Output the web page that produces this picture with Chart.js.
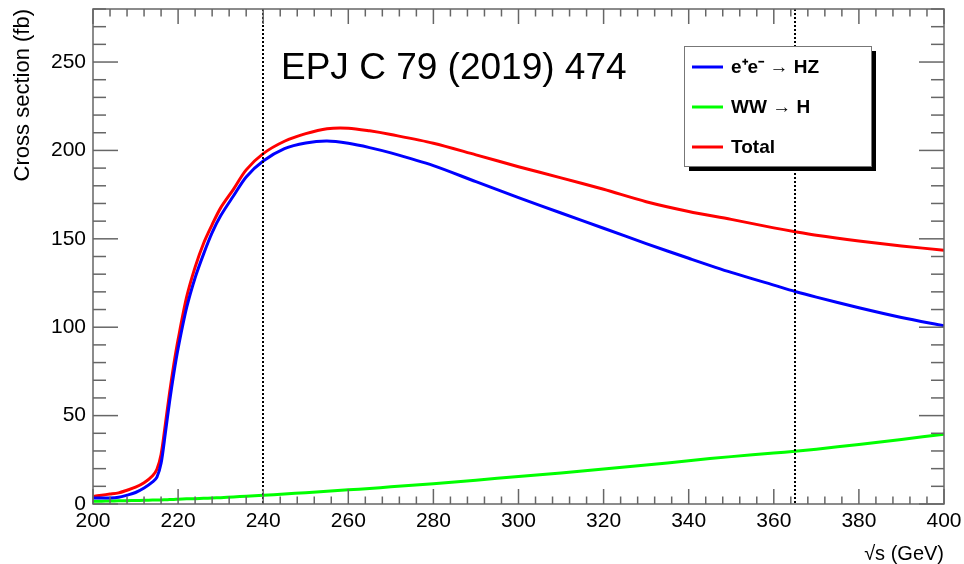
<!DOCTYPE html>
<html>
<head>
<meta charset="utf-8">
<script src="https://cdn.jsdelivr.net/npm/chart.js@4"></script>
<style>
  html, body { margin: 0; padding: 0; background: #fff; }
  #wrap { width: 964px; height: 564px; }
</style>
</head>
<body>
<div id="wrap"><canvas id="xsec" width="964" height="564"></canvas></div>
<script>
// ---- data (sqrt(s) in GeV, cross sections in fb) ----
const energies = [200, 202, 204, 206, 208, 210, 212, 214, 215, 216, 217, 218, 219, 220, 222, 224, 226, 228, 230, 233, 236, 240,
  245, 250, 255, 260, 265, 270, 280, 290, 300, 310, 320, 330, 340, 350, 360, 365, 370, 380, 390, 400];
const hzXsec = [3.4, 3.4, 3.4, 3.8, 5, 6.5, 9, 12.5, 15, 23, 40, 58, 74, 88, 111, 128, 141.5, 153.5, 163, 174.2, 185, 194,
  201, 204.2, 205.3, 204, 201.6, 198.6, 191.4, 182.3, 173.3, 164.6, 156, 147.3, 139, 131, 123.8, 120.2, 117, 111, 105.5, 100.8];
const wwXsec = [1.5, 1.6, 1.7, 1.8, 1.9, 2, 2.1, 2.2, 2.3, 2.3, 2.4, 2.5, 2.6, 2.7, 2.9, 3, 3.2, 3.4, 3.6, 4, 4.4, 4.9,
  5.7, 6.4, 7.2, 8, 8.8, 9.7, 11.5, 13.5, 15.5, 17.5, 19.8, 22, 24.5, 26.8, 28.8, 29.8, 31, 33.7, 36.5, 39.5];
const totalXsec = [4.3, 5, 5.6, 6.3, 7.8, 9.5, 12, 16, 19.5, 28, 45, 63, 79, 93, 117, 134, 147.5, 158, 167.5, 178, 189, 198.2,
  205.2, 209.5, 212.3, 212.6, 211.1, 209, 204.1, 197.5, 190.8, 184.5, 178, 171, 165.5, 161, 156.2, 154, 152, 148.8, 146, 143.5];

const seriesLabels = ["e⁺e⁻ → HZ", "WW → H", "Total"];
const seriesColors = ["#0000ff", "#00ff00", "#ff0000"];
const markerEnergies = [240, 365];
const xTickLabels = [200, 220, 240, 260, 280, 300, 320, 340, 360, 380, 400];
const yTickLabels = [0, 50, 100, 150, 200, 250];
const refText = "EPJ C 79 (2019) 474";

const FONT = "'Liberation Sans', Arial, Helvetica, sans-serif";
Chart.defaults.font.family = FONT;
Chart.defaults.color = "#000";

function line(ctx, x1, y1, x2, y2) {
  ctx.beginPath();
  ctx.moveTo(x1, y1);
  ctx.lineTo(x2, y2);
  ctx.stroke();
}

// dotted vertical markers at the two run energies
const markers = {
  id: "markers",
  afterDatasetsDraw(chart) {
    const { ctx, chartArea: a, scales: { x } } = chart;
    ctx.save();
    ctx.strokeStyle = "#000";
    ctx.lineWidth = 2;
    ctx.setLineDash([2, 2]);
    markerEnergies.forEach(e => {
      const px = Math.round(x.getPixelForValue(e));
      line(ctx, px, a.top, px, a.bottom);
    });
    ctx.restore();
  }
};

// ROOT-style frame: box all round, ticks pointing inwards on all four sides
const rootFrame = {
  id: "rootFrame",
  afterDraw(chart) {
    const { ctx, chartArea: a, scales: { x, y } } = chart;
    ctx.save();
    ctx.strokeStyle = "#666";
    ctx.lineWidth = 1.5;
    ctx.strokeRect(a.left, a.top, a.right - a.left, a.bottom - a.top);
    x.ticks.forEach(t => {
      const px = x.getPixelForValue(t.value);
      const len = xTickLabels.includes(t.value) ? 15 : 7.5;
      line(ctx, px, a.bottom, px, a.bottom - len);
      line(ctx, px, a.top, px, a.top + len);
    });
    y.ticks.forEach(t => {
      const py = y.getPixelForValue(t.value);
      const len = yTickLabels.includes(t.value) ? 25 : 13;
      line(ctx, a.left, py, a.left + len, py);
      line(ctx, a.right, py, a.right - len, py);
    });
    ctx.restore();

    // reference text
    ctx.save();
    ctx.fillStyle = "#000";
    ctx.font = "37px " + FONT;
    ctx.textBaseline = "alphabetic";
    ctx.fillText(refText, 281, 79);
    ctx.restore();

    // legend box with drop shadow
    const bx = 684, by = 46, bw = 187, bh = 120;
    ctx.save();
    ctx.fillStyle = "#000";
    ctx.fillRect(bx + 5, by + 5, bw, bh);
    ctx.fillStyle = "#fff";
    ctx.fillRect(bx, by, bw, bh);
    ctx.strokeStyle = "#777";
    ctx.lineWidth = 1;
    ctx.strokeRect(bx + 0.5, by + 0.5, bw, bh);
    ctx.font = "bold 19px " + FONT;
    ctx.textBaseline = "middle";
    chart.data.datasets.forEach((ds, i) => {
      const ry = 67 + i * 40;
      ctx.strokeStyle = ds.borderColor;
      ctx.lineWidth = 3;
      line(ctx, 692, ry, 723, ry);
      ctx.fillStyle = "#000";
      ctx.fillText(ds.label, 731, ry + 1);
    });
    ctx.restore();
  }
};

function series(values, i) {
  return {
    label: seriesLabels[i],
    data: energies.map((e, k) => ({ x: e, y: values[k] })),
    borderColor: seriesColors[i],
    backgroundColor: seriesColors[i],
    borderWidth: 3,
    pointRadius: 0,
    tension: 0.3,
  };
}

new Chart(document.getElementById("xsec"), {
  type: "line",
  data: { datasets: [series(hzXsec, 0), series(wwXsec, 1), series(totalXsec, 2)] },
  options: {
    responsive: false,
    animation: false,
    layout: { padding: { left: 0, top: 9, right: 20, bottom: 0 } },
    plugins: { legend: { display: false }, tooltip: { enabled: false } },
    scales: {
      x: {
        type: "linear",
        min: 200, max: 400,
        grid: { display: false, drawTicks: false },
        border: { display: false },
        ticks: {
          stepSize: 4, autoSkip: false, maxRotation: 0, padding: 5,
          font: { size: 21 },
          callback: v => xTickLabels.includes(v) ? String(v) : "",
        },
        title: {
          display: true, text: "√s (GeV)", align: "end",
          font: { size: 20, lineHeight: 1 }, padding: 0,
        },
        afterFit: s => { s.height = 60; s.paddingLeft = 0; s.paddingRight = 0; },
      },
      y: {
        min: 0, max: 280,
        grid: { display: false, drawTicks: false },
        border: { display: false },
        ticks: {
          stepSize: 10, autoSkip: false, padding: 7,
          font: { size: 21 },
          callback: v => yTickLabels.includes(v) ? String(v) : "",
        },
        title: {
          display: true, text: "Cross section (fb)", align: "end",
          font: { size: 22, lineHeight: 1.2 }, padding: { top: 10, bottom: 0 },
        },
        afterFit: s => { s.width = 93; s.paddingTop = 0; s.paddingBottom = 0; },
      },
    },
  },
  plugins: [markers, rootFrame],
});
</script>
</body>
</html>
